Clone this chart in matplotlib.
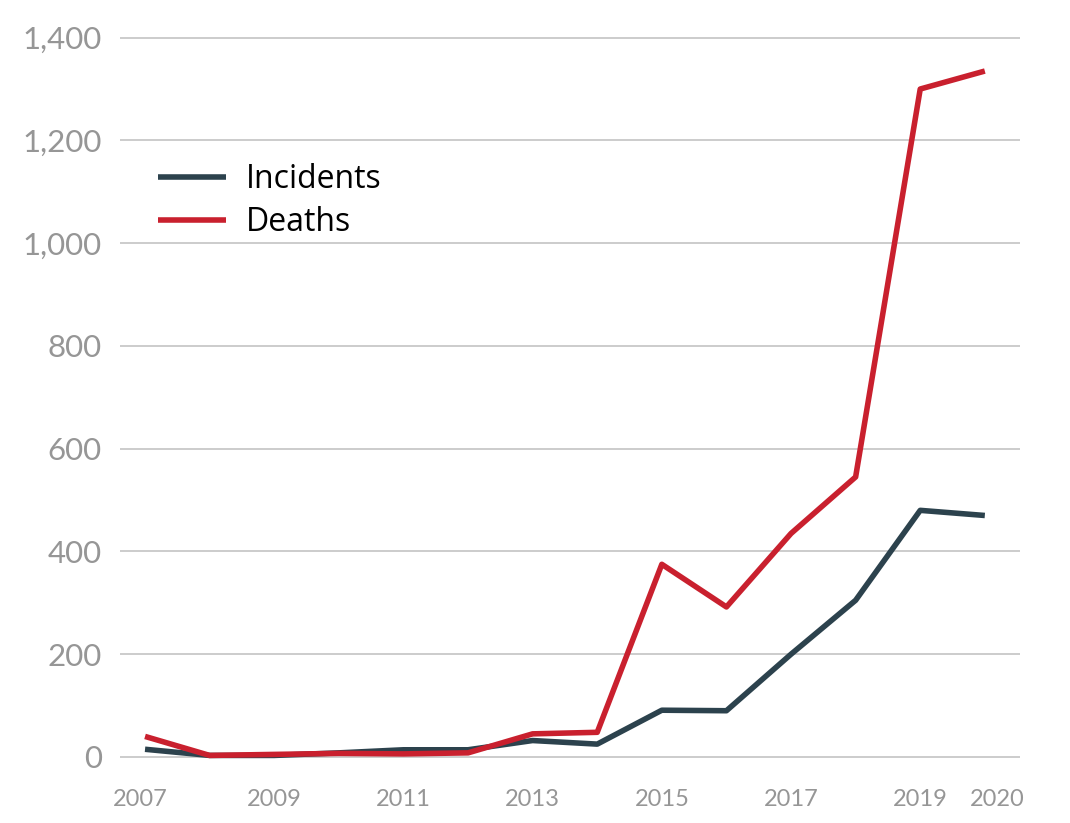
import matplotlib.pyplot as plt

# years and series
years = [2007, 2008, 2009, 2010, 2011, 2012, 2013, 2014, 2015, 2016, 2017, 2018, 2019, 2020]
incidents = [15, 3, 3, 8, 14, 14, 32, 25, 91, 90, 200, 305, 480, 470]
deaths = [40, 3, 5, 7, 6, 8, 45, 48, 375, 292, 435, 545, 1300, 1335]

xtick_years = [2007, 2009, 2011, 2013, 2015, 2017, 2019, 2020]
ytick_vals = [0, 200, 400, 600, 800, 1000, 1200, 1400]

fig = plt.figure(figsize=(10.7, 8.23), dpi=100)
ax = fig.add_axes([0.112, 0.0615, 0.841, 0.899])

ax.plot(years, incidents, color='#2c424d', lw=4, label='Incidents',
        solid_joinstyle='round', solid_capstyle='butt')
ax.plot(years, deaths, color='#c9202e', lw=4, label='Deaths',
        solid_joinstyle='round', solid_capstyle='butt')

ax.set_xlim(2006.61, 2020.54)
ax.set_ylim(-30, 1410)
ax.set_yticks(ytick_vals)
ax.set_yticklabels([f'{v:,}' for v in ytick_vals])
# last label sits a bit right of its point in the original
xt = [y if y != 2020 else 2020.2 for y in xtick_years]
xt[0] = 2006.92
ax.set_xticks(xt)
ax.set_xticklabels([str(y) for y in xtick_years])

ax.grid(axis='y', color='#c4c4c4', lw=1.2)
ax.set_axisbelow(True)
for s in ax.spines.values():
    s.set_visible(False)
ax.tick_params(axis='both', length=0, colors='#969696')
ax.tick_params(axis='y', labelsize=22.5, pad=13)
ax.tick_params(axis='x', labelsize=17, pad=12)
for lbl in ax.get_xticklabels() + ax.get_yticklabels():
    lbl.set_family('Lato')

leg = ax.legend(loc='upper left', bbox_to_anchor=(0.011, 0.862), frameon=False,
                prop={'family': 'Open Sans', 'size': 23}, handlelength=2.1,
                handletextpad=0.65, labelspacing=0.3)

fig.savefig('out.png', dpi=100)
